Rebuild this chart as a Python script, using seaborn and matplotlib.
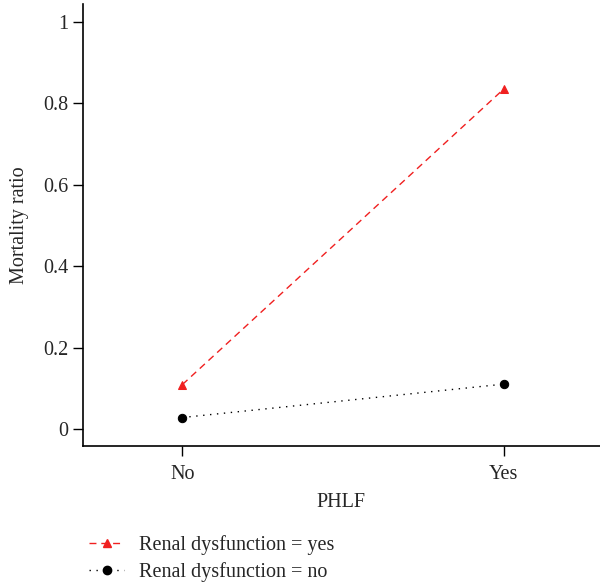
import matplotlib
matplotlib.use("Agg")
import matplotlib.pyplot as plt
from matplotlib.lines import Line2D
import seaborn as sns
import pandas as pd

# data
phlf = ["No", "Yes"]
renal_yes = [0.109, 0.835]
renal_no = [0.028, 0.110]
groups = ["Renal dysfunction = yes", "Renal dysfunction = no"]

df = pd.DataFrame({
    "PHLF": phlf * 2,
    "ratio": renal_yes + renal_no,
    "group": [groups[0]] * 2 + [groups[1]] * 2,
})

sns.set_theme(style="white")
plt.rcParams["font.family"] = ["Liberation Serif", "DejaVu Serif"]

colors = {groups[0]: "#f02020", groups[1]: "black"}
dash_yes = (5, 3.5)
dash_no = (1, 4)

fig = plt.figure(figsize=(6, 5.83), dpi=100)
ax = fig.add_axes([0.138, 0.235, 0.862, 0.758])

sns.pointplot(data=df, x="PHLF", y="ratio", hue="group", order=phlf,
              hue_order=groups, palette=colors, markers=["^", "o"],
              linestyles=["--", ":"], markersize=6, linewidth=1,
              errorbar=None, ax=ax, legend=False)
for line, d in zip(ax.lines, [dash_yes, dash_no]):
    line.set_dashes(d)

ax.set_xlim(-0.31, 1.3)
ax.set_ylim(-0.042, 1.044)
ax.set_yticks([0, 0.2, 0.4, 0.6, 0.8, 1.0])
ax.set_yticklabels(["0", "0.2", "0.4", "0.6", "0.8", "1"])
ax.set_xlabel("PHLF", fontsize=14.5, labelpad=6)
ax.set_ylabel("Mortality ratio", fontsize=14.5, labelpad=10)
ax.tick_params(axis="both", labelsize=14.5, length=7, width=1, direction="out",
               bottom=True, left=True, color="black")
ax.tick_params(axis="x", pad=7)
for s in ["top", "right"]:
    ax.spines[s].set_visible(False)
for s in ["left", "bottom"]:
    ax.spines[s].set_color("black")
    ax.spines[s].set_linewidth(1.2)

handles = [
    Line2D([], [], color=colors[groups[0]], dashes=dash_yes, marker="^",
           markersize=6, linewidth=1),
    Line2D([], [], color=colors[groups[1]], dashes=dash_no, marker="o",
           markersize=6, linewidth=1),
]
fig.legend(handles, groups, loc="lower left", bbox_to_anchor=(0.118, -0.029),
           frameon=False, fontsize=14.5, handlelength=1.75, labelspacing=0.35,
           handletextpad=0.75)

fig.savefig("out.png", dpi=100)
